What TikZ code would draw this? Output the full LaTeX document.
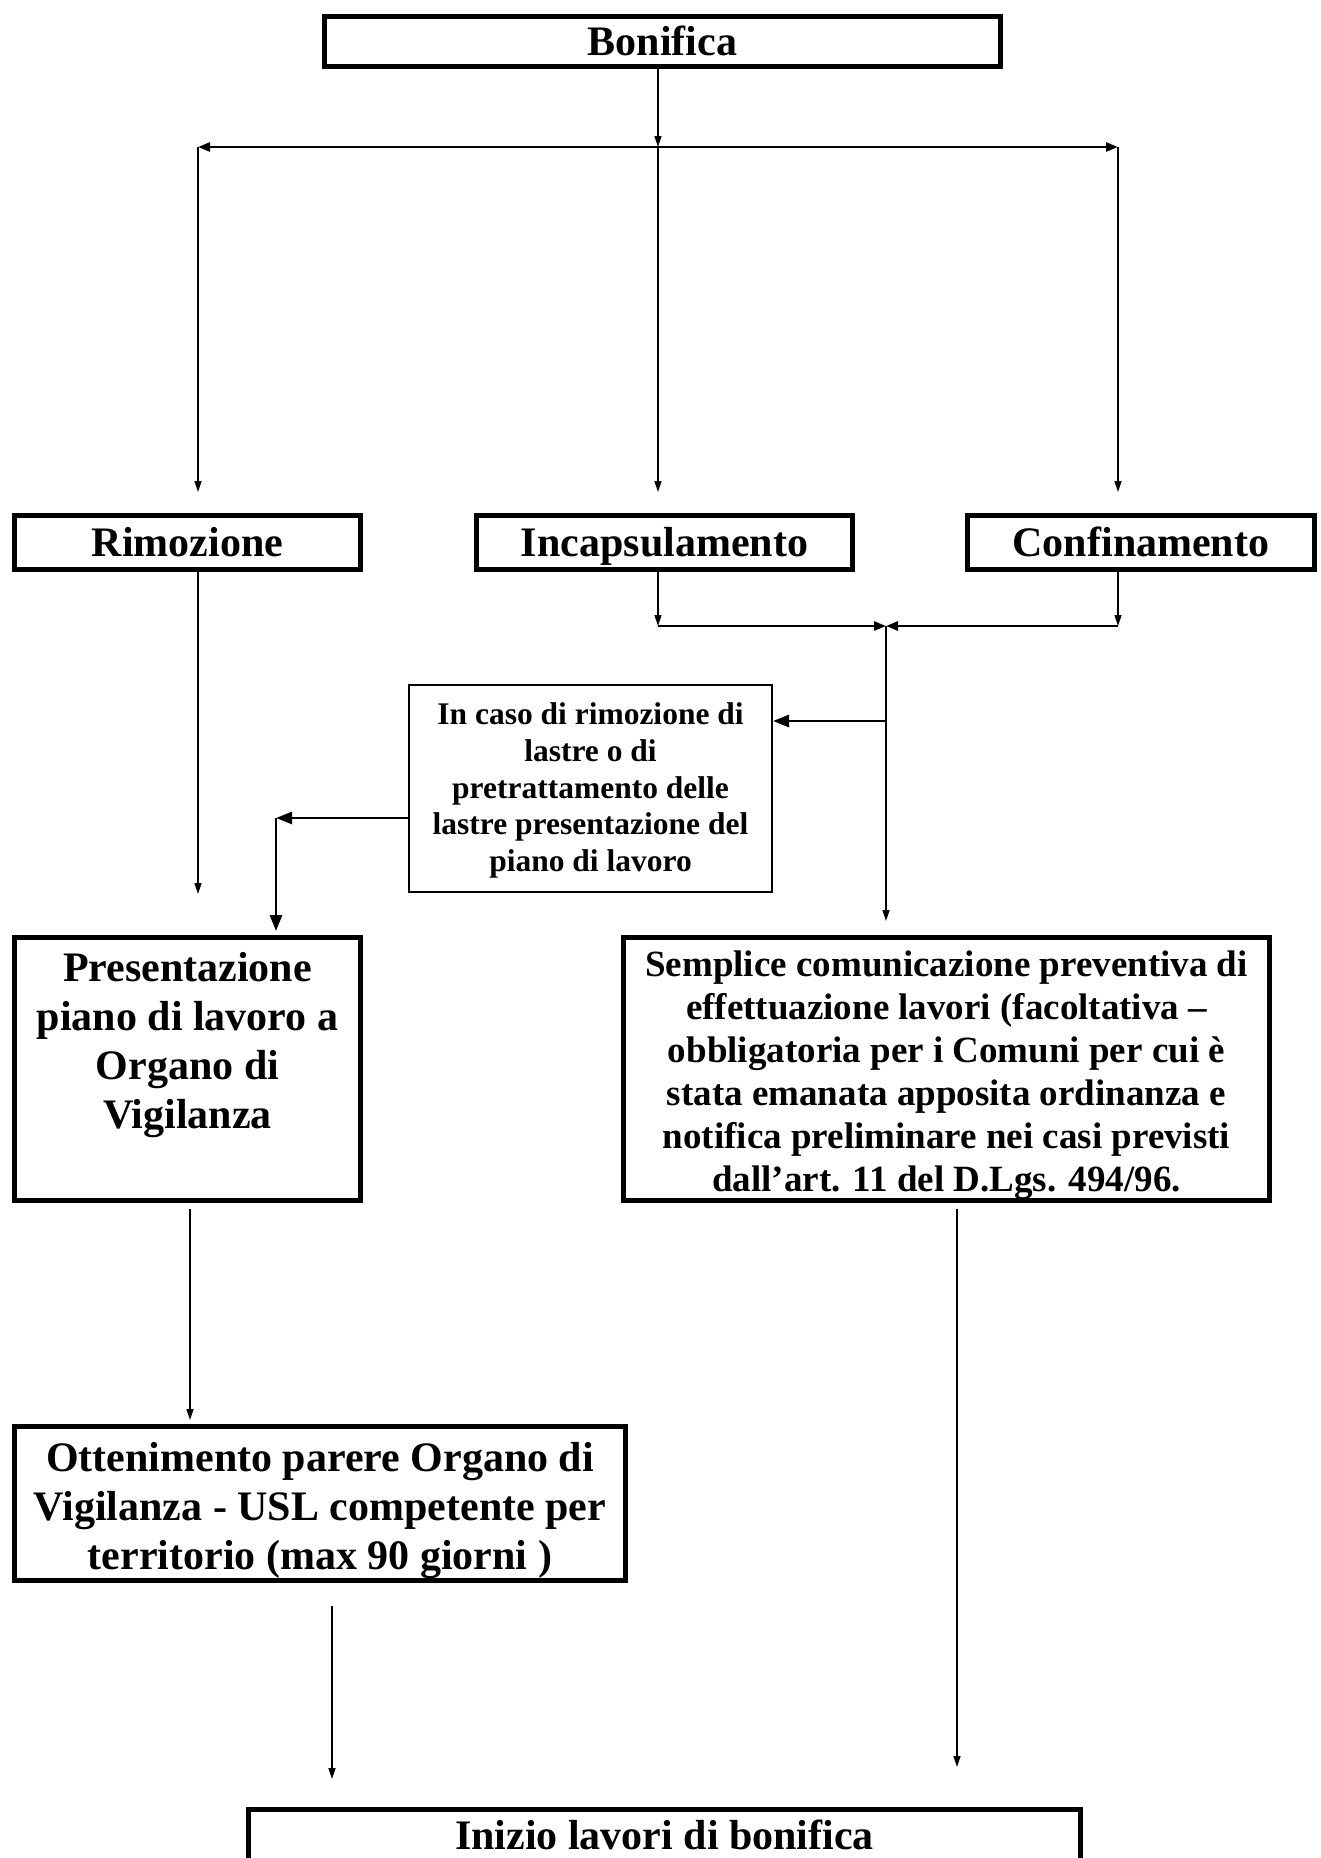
\documentclass[tikz,border=0pt]{standalone}
\usepackage{fontspec}
\setmainfont{Liberation Serif}
\usetikzlibrary{arrows.meta,calc}
\begin{document}
\begin{tikzpicture}[x=1pt,y=-1pt,
  bigbox/.style={draw, line width=5pt, inner sep=0pt, align=center,
    font=\fontsize{42}{49}\selectfont\bfseries},
  onebox/.style={bigbox, text height=28.5pt, text depth=0pt},
  thinbox/.style={draw, line width=2pt, inner sep=0pt},
  bigtext/.style={inner sep=0pt, align=center, font=\fontsize{42}{49}\selectfont\bfseries},
  medtext/.style={inner sep=0pt, align=center, font=\fontsize{37}{43}\selectfont\bfseries},
  smalltext/.style={inner sep=0pt, align=center, font=\fontsize{31.5}{36.7}\selectfont\bfseries},
  arr/.style={line width=1.5pt, -{Triangle[length=11pt,width=7pt]}},
  harr/.style={line width=2.6pt, -{Triangle[length=12pt,width=9pt]}},
  bigarr/.style={line width=2.6pt, -{Triangle[length=16pt,width=12pt]}}
]
\useasboundingbox (0,0) rectangle (1320,1858);
\clip (0,0) rectangle (1320,1858);

% boxes
\node[onebox, minimum width=676pt, minimum height=50pt] (bon) at (662.5,41.5) {Bonifica};
\node[onebox, minimum width=346pt, minimum height=54pt] (rim) at (187.5,542.5) {Rimozione};
\node[onebox, minimum width=376pt, minimum height=54pt] (inc) at (664.5,542.5) {Incapsulamento};
\node[onebox, minimum width=347pt, minimum height=54pt] (con) at (1141,542.5) {Confinamento};

\node[thinbox, minimum width=363pt, minimum height=207pt] (small) at (590.5,788.5) {};
\node[smalltext] (smalltxt) at ([yshift=-2pt]small.center)
  {In caso di rimozione di\\lastre o di\\pretrattamento delle\\lastre presentazione del\\piano di lavoro};

\node[bigbox, minimum width=346pt, minimum height=263pt] (pres) at (187.5,1069) {};
\node[bigtext] (prestext) at ([yshift=24pt]pres.center)
  {Presentazione\\piano di lavoro a\\Organo di\\Vigilanza};

\node[bigbox, minimum width=646pt, minimum height=263pt] (semp) at (946.5,1069) {};
\node[medtext] (semptext) at ([yshift=-6pt]semp.center)
  {Semplice comunicazione preventiva di\\effettuazione lavori (facoltativa --\\obbligatoria per i Comuni per cui è\\stata emanata apposita ordinanza e\\notifica preliminare nei casi previsti\\dall’art. 11 del D.Lgs. 494/96.};

\node[bigbox, minimum width=611pt, minimum height=154pt] (ott) at (320,1503.5) {};
\node[bigtext] (otttext) at ([yshift=-7pt]ott.center)
  {Ottenimento parere Organo di\\Vigilanza - USL competente per\\territorio (max 90 giorni )};

\node[onebox, minimum width=832pt, minimum height=51pt] (ini) at (664.5,1835) {Inizio lavori di bonifica};

% coordinates
\coordinate (jT) at (658,147);
\coordinate (jL) at (198,147);
\coordinate (jR) at (1118,147);
\coordinate (tL) at (198,492);
\coordinate (tM) at (658,492);
\coordinate (tR) at (1118,492);
\coordinate (bI) at (658,626);
\coordinate (bC) at (1118,626);
\coordinate (bJ) at (886,626);
\coordinate (sE) at (886,921);
\coordinate (sB) at (886,721);
\coordinate (pC) at (276,818);
\coordinate (pE) at (276,931);
\coordinate (rE) at (198,894);
\coordinate (pS) at (190,1209);
\coordinate (oE) at (190,1420);
\coordinate (mS) at (957,1209);
\coordinate (mE) at (957,1767);
\coordinate (oS) at (332,1606);
\coordinate (iE) at (332,1779);

% connectors
\draw[arr] (bon.south -| jT) -- (jT);
\draw[harr] (jT) -- (jL);
\draw[harr] (jT) -- (jR);
\draw[arr] (jL) -- (tL);
\draw[arr] (jT) -- (tM);
\draw[arr] (jR) -- (tR);

\draw[arr] (rim.south -| rE) -- (rE);
\draw[arr] (inc.south -| bI) -- (bI);
\draw[arr] (con.south -| bC) -- (bC);
\draw[harr] (bI) -- (bJ);
\draw[harr] (bC) -- (bJ);
\draw[arr] (bJ) -- (sE);
\draw[bigarr] (sB) -- (small.east |- sB);
\draw[bigarr] (small.west |- pC) -- (pC);
\draw[bigarr] (pC) -- (pE);

\draw[arr] (pS) -- (oE);
\draw[arr] (mS) -- (mE);
\draw[arr] (oS) -- (iE);
\end{tikzpicture}
\end{document}
